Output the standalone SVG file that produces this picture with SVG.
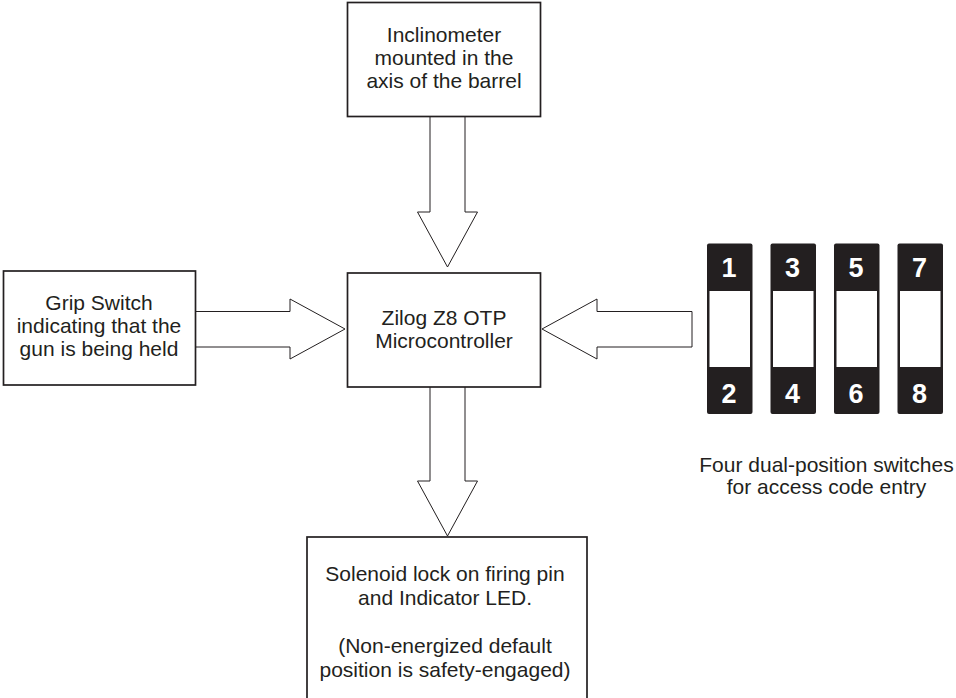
<svg xmlns="http://www.w3.org/2000/svg" width="956" height="698" viewBox="0 0 956 698">
  <style>
    .box { fill: #ffffff; stroke: #231f20; stroke-width: 1.7; }
    .arrow { fill: #ffffff; stroke: #231f20; stroke-width: 1; stroke-linejoin: miter; }
    .label { font-family: "Liberation Sans", Arial, sans-serif; font-size: 21px; fill: #231f20; text-anchor: middle; }
    .sw { fill: #231f20; }
    .slot { fill: #ffffff; }
    .digit { font-family: "Liberation Sans", Arial, sans-serif; font-size: 27px; font-weight: bold; fill: #ffffff; text-anchor: middle; }
  </style>
  <rect width="956" height="698" fill="#ffffff"/>

  <!-- block arrows between the blocks -->
  <g id="connectors">
    <path class="arrow" d="M430,116 V212 H417.5 L447.5,267 L477.5,212 H465 V116"/>
    <path class="arrow" d="M195,311.5 H290 V299 L345,329 L290,359 V347 H195"/>
    <path class="arrow" d="M692,311.5 H597 V299 L542,329 L597,359 V347 H692 Z"/>
    <path class="arrow" d="M430,387 V481 H417.5 L447.5,536 L477.5,481 H465 V387"/>
  </g>

  <g id="inclinometer">
    <rect class="box" x="347.5" y="2.5" width="193" height="114"/>
    <text class="label" x="444" y="42">Inclinometer</text>
    <text class="label" x="444" y="65">mounted in the</text>
    <text class="label" x="444" y="88">axis of the barrel</text>
  </g>

  <g id="grip-switch">
    <rect class="box" x="3.5" y="271" width="192" height="114"/>
    <text class="label" x="99" y="310">Grip Switch</text>
    <text class="label" x="99" y="333">indicating that the</text>
    <text class="label" x="99" y="356">gun is being held</text>
  </g>

  <g id="microcontroller">
    <rect class="box" x="347.5" y="273" width="193" height="114"/>
    <text class="label" x="444" y="325">Zilog Z8 OTP</text>
    <text class="label" x="444" y="348">Microcontroller</text>
  </g>

  <g id="solenoid">
    <rect class="box" x="307" y="537" width="280" height="170"/>
    <text class="label" x="445" y="581">Solenoid lock on firing pin</text>
    <text class="label" x="445" y="605">and Indicator LED.</text>
    <text class="label" x="445" y="653">(Non-energized default</text>
    <text class="label" x="445" y="677">position is safety-engaged)</text>
  </g>

  <g id="switches">
    <g id="switch-1-2">
      <rect class="sw" x="707" y="243.5" width="45.5" height="170.5" rx="2"/>
      <rect class="slot" x="709.5" y="291" width="40.5" height="76"/>
      <text class="digit" x="729" y="277">1</text>
      <text class="digit" x="729" y="403">2</text>
    </g>
    <g id="switch-3-4">
      <rect class="sw" x="770.5" y="243.5" width="45.5" height="170.5" rx="2"/>
      <rect class="slot" x="773" y="291" width="40.5" height="76"/>
      <text class="digit" x="792.5" y="277">3</text>
      <text class="digit" x="792.5" y="403">4</text>
    </g>
    <g id="switch-5-6">
      <rect class="sw" x="834" y="243.5" width="45.5" height="170.5" rx="2"/>
      <rect class="slot" x="836.5" y="291" width="40.5" height="76"/>
      <text class="digit" x="856" y="277">5</text>
      <text class="digit" x="856" y="403">6</text>
    </g>
    <g id="switch-7-8">
      <rect class="sw" x="897.5" y="243.5" width="45.5" height="170.5" rx="2"/>
      <rect class="slot" x="900" y="291" width="40.5" height="76"/>
      <text class="digit" x="919.5" y="277">7</text>
      <text class="digit" x="919.5" y="403">8</text>
    </g>
    <text class="label" x="826.5" y="472">Four dual-position switches</text>
    <text class="label" x="826.5" y="494">for access code entry</text>
  </g>
</svg>
